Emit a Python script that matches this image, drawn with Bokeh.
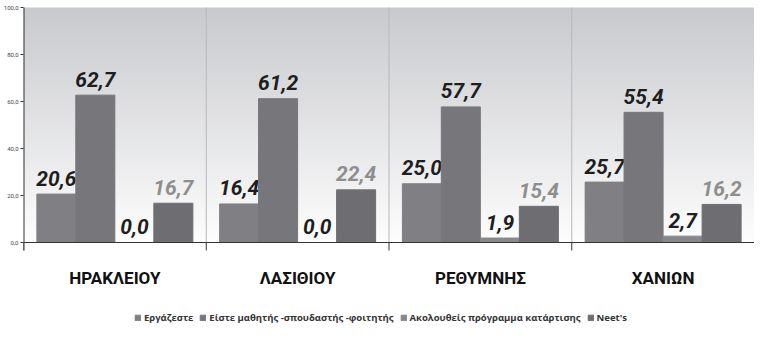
from bokeh.plotting import figure
from bokeh.models import (ColumnDataSource, Range1d, LinearAxis,
                          FixedTicker, Legend, LegendItem, Span)
from bokeh.transform import dodge
from bokeh.core.properties import value
from bokeh.embed import file_html
from bokeh.resources import INLINE

regions = ["ΗΡΑΚΛΕΙΟΥ", "ΛΑΣΙΘΙΟΥ", "ΡΕΘΥΜΝΗΣ", "ΧΑΝΙΩΝ"]
series = ["Εργάζεστε", "Είστε μαθητής -σπουδαστής -φοιτητής",
          "Ακολουθείς πρόγραμμα κατάρτισης", "Neet's"]
working = [20.6, 16.4, 25.0, 25.7]
student = [62.7, 61.2, 57.7, 55.4]
training = [0.0, 0.0, 1.9, 2.7]
neets = [16.7, 22.4, 15.4, 16.2]
y_ticks = [0, 20, 40, 60, 80, 100]

all_values = [working, student, training, neets]
bar_colors = ["#808084", "#77777b", "#88888c", "#6e6e72"]
label_colors = ["#1e1e1e", "#1e1e1e", "#1e1e1e", "#8e8e8e"]
offsets = [-0.32, -0.107, 0.107, 0.32]
bar_w = 0.2135

n = len(regions)
centers = [i + 0.5 for i in range(n)]

W, H = 754, 325
TOP_PAD, BOTTOM_PAD = 7, 83        # pixels inside the frame, above 100 and below 0
px_per_unit = (H - TOP_PAD - BOTTOM_PAD) / 100.0
y_min = -BOTTOM_PAD / px_per_unit
y_max = 100 + TOP_PAD / px_per_unit

p = figure(width=W, height=H, x_range=Range1d(0, n),
           y_range=Range1d(y_min, y_max), output_backend="svg", toolbar_location=None,
           x_axis_location=None, y_axis_location=None,
           min_border_left=16, min_border_right=0, min_border_top=0, min_border_bottom=0)
p.outline_line_color = None
p.xgrid.grid_line_color = None
p.ygrid.grid_line_color = None
p.background_fill_color = "white"
p.border_fill_color = "white"

# background gradient (decorative)
nb = 80
top_c = (200, 201, 205)
bot_c = (253, 253, 253)
bands = dict(left=[], right=[], bottom=[], top=[], color=[])
for i in range(nb):
    t = (i + 0.5) / nb
    c = tuple(int(round(bot_c[k] + (top_c[k] - bot_c[k]) * t)) for k in range(3))
    bands["left"].append(0)
    bands["right"].append(n)
    bands["bottom"].append(100 * i / nb)
    bands["top"].append(min(100, 100 * (i + 1) / nb + 0.4))
    bands["color"].append("#%02x%02x%02x" % c)
p.quad(left="left", right="right", bottom="bottom", top="top", fill_color="color",
       line_color=None, source=ColumnDataSource(bands))

# separators
sep = list(range(1, n))
p.segment(x0=sep, x1=sep, y0=[0] * len(sep), y1=[100] * len(sep),
          line_color="#b8b8bc", line_width=1)

items = []
for s, vals, col, lc, off in zip(series, all_values, bar_colors, label_colors, offsets):
    src = ColumnDataSource(dict(pos=centers, region=regions, v=vals,
                                lab=[f"{v:.1f}".replace(".", ",") for v in vals]))
    r = p.vbar(x=dodge("pos", off), top="v", width=bar_w, source=src,
               fill_color=col, line_color=col)
    p.text(x=dodge("pos", off), y="v", text="lab", source=src,
           text_align="center", text_baseline="alphabetic", y_offset=-16,
           text_font=value("Roboto"), text_font_style="bold italic",
           text_font_size="21px", text_color=lc)
    items.append(LegendItem(label=s, renderers=[r]))

# x axis line and boundary ticks
p.add_layout(Span(location=0, dimension="width", line_color="#333333", line_width=1))
bnd = list(range(n + 1))
tick_len = 8 / px_per_unit
p.segment(x0=bnd, x1=bnd, y0=[0] * len(bnd), y1=[-tick_len] * len(bnd),
          line_color="#333333", line_width=1)
# y axis line
p.segment(x0=[0], x1=[0], y0=[-tick_len], y1=[100], line_color="#333333", line_width=2)

# category labels
p.text(x=centers, y=[0] * n, text=regions, y_offset=35, text_align="center",
       text_baseline="middle", text_font=value("Roboto"), text_font_style="bold",
       text_font_size="17px", text_color="#111111")

# y axis ticks and labels
yax = LinearAxis(ticker=FixedTicker(ticks=y_ticks))
yax.major_label_overrides = {t: f"{t:.1f}".replace(".", ",") for t in y_ticks}
yax.major_label_text_font = "Roboto"
yax.major_label_text_font_size = "6px"
yax.major_label_text_color = "#444444"
yax.major_label_standoff = 2
yax.major_tick_out = 3
yax.major_tick_in = 0
yax.minor_tick_line_color = None
yax.axis_line_color = None
yax.major_tick_line_color = "#333333"
p.add_layout(yax, "left")

legend = Legend(items=items, orientation="horizontal", location=(111, 1),
                label_text_font="Open Sans", label_text_font_size="9.5px",
                label_text_color="#333333", label_text_font_style="bold",
                glyph_width=7, glyph_height=7, spacing=6, label_standoff=3,
                padding=2, margin=0, border_line_color=None, background_fill_alpha=0)
p.add_layout(legend, "center")

open("out.html", "w").write(file_html(p, INLINE))
